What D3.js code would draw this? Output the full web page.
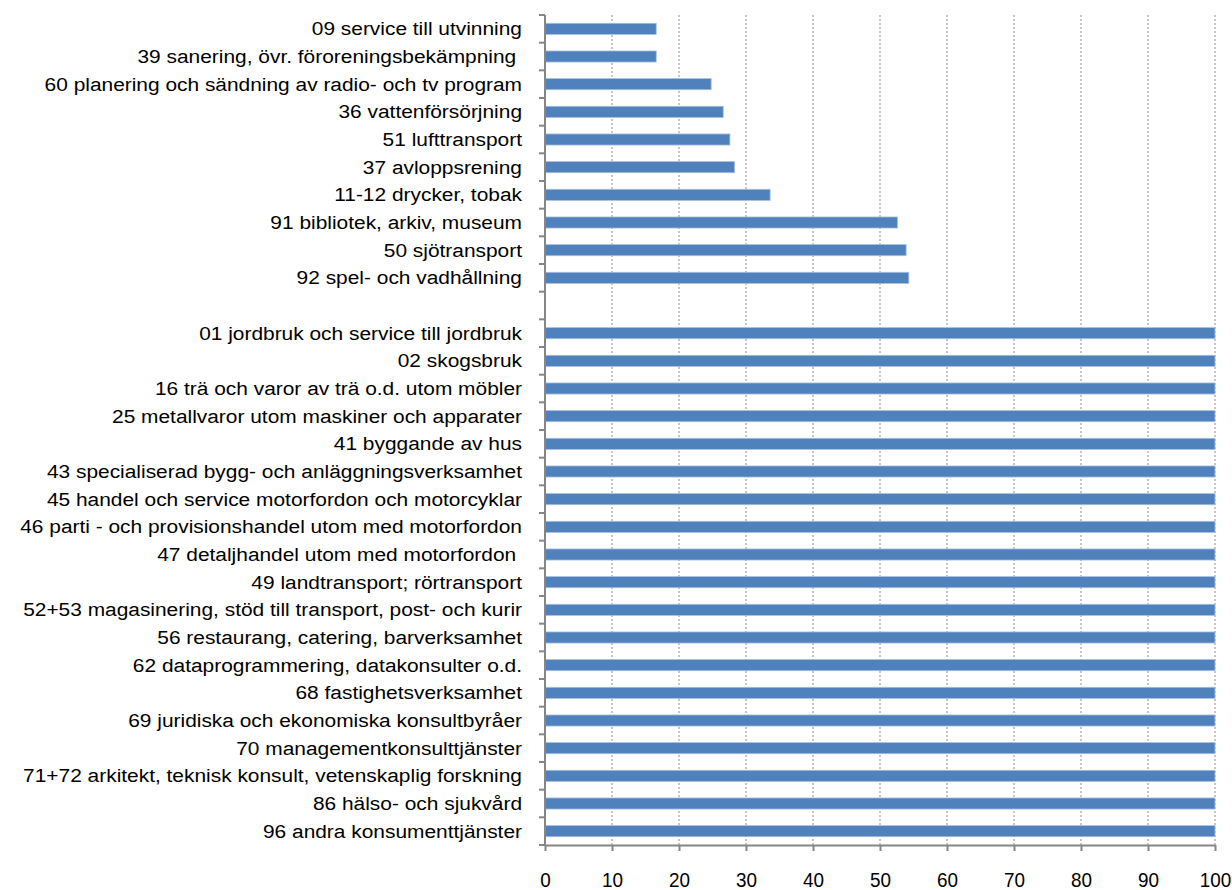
<!DOCTYPE html>
<html lang="sv">
<head>
<meta charset="utf-8">
<title>Andel</title>
<script src="https://cdn.jsdelivr.net/npm/d3@7"></script>
<style>
  body { margin: 0; background: #fff; }
  text { font-family: "Liberation Sans", Arial, sans-serif; fill: #000; white-space: pre; }
  .grid line { stroke: #8c8c8c; stroke-dasharray: 2,2; }
  .axis path, .axis line { stroke: #868686; stroke-width: 2px; }
</style>
</head>
<body>
<div id="chart"></div>
<script>
// kategorier uppifrån och ned, "" = tom rad mellan grupperna
var categories = [
  "09 service till utvinning",
  "39 sanering, övr. föroreningsbekämpning ",
  "60 planering och sändning av radio- och tv program",
  "36 vattenförsörjning",
  "51 lufttransport",
  "37 avloppsrening",
  "11-12 drycker, tobak",
  "91 bibliotek, arkiv, museum",
  "50 sjötransport",
  "92 spel- och vadhållning",
  "",
  "01 jordbruk och service till jordbruk",
  "02 skogsbruk",
  "16 trä och varor av trä o.d. utom möbler",
  "25 metallvaror utom maskiner och apparater",
  "41 byggande av hus",
  "43 specialiserad bygg- och anläggningsverksamhet",
  "45 handel och service motorfordon och motorcyklar",
  "46 parti - och provisionshandel utom med motorfordon",
  "47 detaljhandel utom med motorfordon ",
  "49 landtransport; rörtransport",
  "52+53 magasinering, stöd till transport, post- och kurir",
  "56 restaurang, catering, barverksamhet",
  "62 dataprogrammering, datakonsulter o.d.",
  "68 fastighetsverksamhet",
  "69 juridiska och ekonomiska konsultbyråer",
  "70 managementkonsulttjänster",
  "71+72 arkitekt, teknisk konsult, vetenskaplig forskning",
  "86 hälso- och sjukvård",
  "96 andra konsumenttjänster"
];
var values = [
  16.6, 16.6, 24.8, 26.6, 27.6, 28.3, 33.6, 52.6, 53.9, 54.3,
  null,
  100, 100, 100, 100, 100, 100, 100, 100, 100,
  100, 100, 100, 100, 100, 100, 100, 100, 100, 100
];
var xTicks = [0, 10, 20, 30, 40, 50, 60, 70, 80, 90, 100];

var width = 1232, height = 890;
var margin = {top: 15, right: 17, bottom: 45, left: 545};

var svg = d3.select("#chart").append("svg")
    .attr("width", width)
    .attr("height", height);

var x = d3.scaleLinear().domain([0, 100]).range([margin.left, width - margin.right]);
var y = d3.scaleBand().domain(d3.range(categories.length))
    .range([margin.top, height - margin.bottom])
    .paddingInner(0.6).paddingOuter(0.3);

// stödlinjer
svg.append("g").attr("class", "grid")
  .selectAll("line")
  .data(xTicks.slice(1))
  .enter().append("line")
    .attr("x1", function(d) { return x(d); })
    .attr("x2", function(d) { return x(d); })
    .attr("y1", margin.top)
    .attr("y2", height - margin.bottom);

// staplar
svg.append("g")
  .selectAll("rect")
  .data(values.map(function(v, i) { return {i: i, v: v}; }).filter(function(d) { return d.v != null; }))
  .enter().append("rect")
    .attr("x", x(0))
    .attr("y", function(d) { return y(d.i); })
    .attr("width", function(d) { return x(d.v) - x(0); })
    .attr("height", y.bandwidth())
    .attr("fill", "#4f81bd")
    .attr("stroke", "#a7bfde")
    .attr("stroke-width", 0.8);

// y-axel (band-gränser som tickar)
var yAxis = svg.append("g").attr("class", "axis");
var step = (height - margin.bottom - margin.top) / categories.length;
yAxis.append("line")
  .attr("x1", x(0)).attr("x2", x(0))
  .attr("y1", margin.top).attr("y2", height - margin.bottom);
yAxis.selectAll("line.t")
  .data(d3.range(categories.length + 1))
  .enter().append("line").attr("class", "t")
    .attr("x1", x(0) - 6).attr("x2", x(0))
    .attr("y1", function(d) { return margin.top + d * step; })
    .attr("y2", function(d) { return margin.top + d * step; });
yAxis.selectAll("text")
  .data(categories)
  .enter().append("text")
    .attr("transform", function(d, i) {
      return "translate(" + (x(0) - 23) + "," + (y(i) + y.bandwidth() / 2) + ") scale(1.1,1)";
    })
    .attr("dy", "0.35em")
    .attr("text-anchor", "end")
    .attr("font-size", 19)
    .text(function(d) { return d; });

// x-axel
var xAxis = svg.append("g").attr("class", "axis")
  .attr("transform", "translate(0," + (height - margin.bottom) + ")")
  .call(d3.axisBottom(x).tickValues(xTicks).tickSize(6).tickPadding(21).tickSizeOuter(0));
xAxis.select(".domain").attr("stroke", "#868686");
xAxis.selectAll("text")
    .attr("font-size", 21)
    .attr("font-family", "Liberation Sans, Arial, sans-serif")
    .attr("fill", "#000")
    .attr("transform", "scale(0.9,1)")
    .attr("x", function() { return 0; });
</script>
</body>
</html>
